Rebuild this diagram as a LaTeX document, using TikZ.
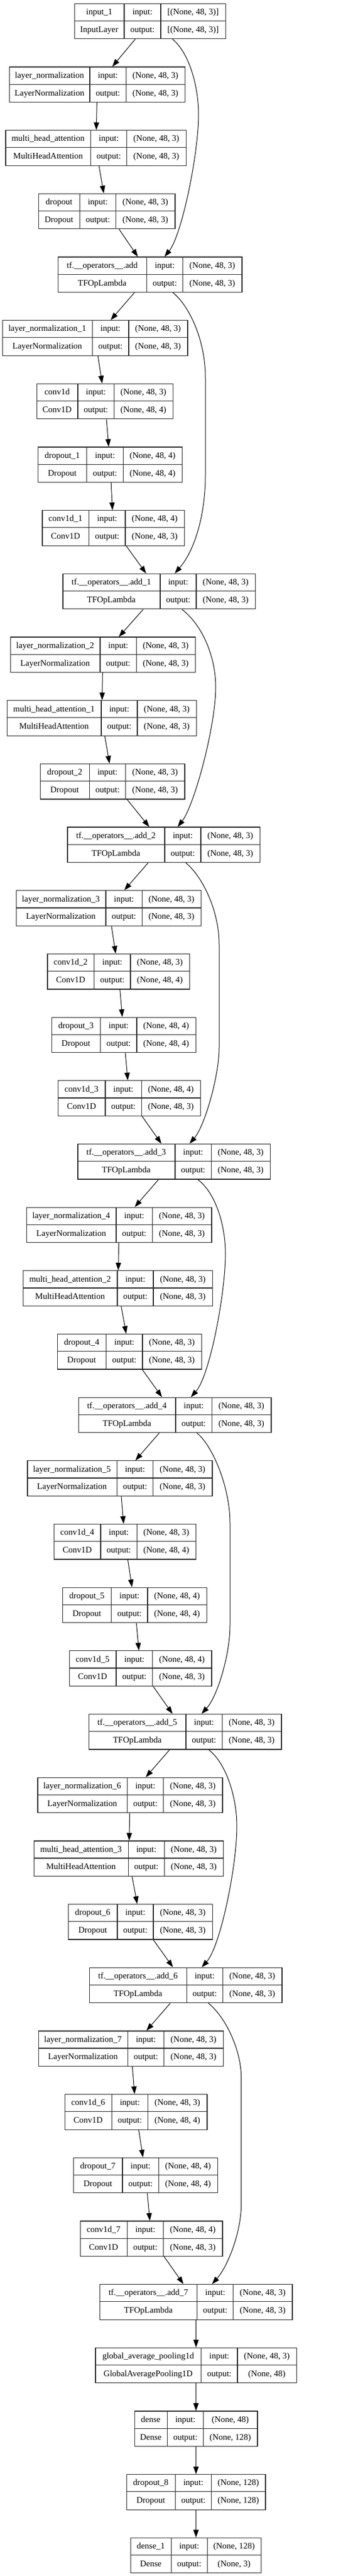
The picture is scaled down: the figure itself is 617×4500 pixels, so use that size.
\documentclass[tikz,border=0pt]{standalone}
\usepackage{fontspec}
\setmainfont{Liberation Serif}
\usetikzlibrary{arrows.meta}
\tikzset{
  recbox/.style={draw=black!85, line width=1.2pt, rectangle, inner sep=0pt, minimum height=61.5pt},
  cellline/.style={draw=black!85, line width=1.2pt},
  txt/.style={inner sep=0pt, text height=11pt, text depth=2pt, font=\fontsize{15}{18}\selectfont},
  edge/.style={line width=1pt, -{Triangle[length=13.3pt,width=9.3pt]}},
}
% #1 name, #2 row, #3 x0, #4 c1, #5 c2, #6 x3, #7 label, #8 class, #9 \io{in}{out}
\newcommand\rec[9]{%
  \pgfmathsetmacro\yt{5.7+110.675*#2}%
  \pgfmathsetmacro\ym{\yt+30.75}%
  \pgfmathsetmacro\yb{\yt+61.5}%
  \pgfmathsetmacro\ww{#6-#3}%
  \def\io##1##2{\def\inS{##1}\def\outS{##2}}#9%
  \node[recbox, minimum width=\ww pt, anchor=north west] (#1) at (#3,\yt) {};
  \draw[cellline] (#4,\yt) -- (#4,\yb) (#5,\yt) -- (#5,\yb) (#3,\ym) -- (#6,\ym);
  \pgfmathsetmacro\xa{(#3+#4)/2}%
  \pgfmathsetmacro\xb{(#4+#5)/2}%
  \pgfmathsetmacro\xc{(#5+#6)/2}%
  \pgfmathsetmacro\ya{\yt+15.375}%
  \pgfmathsetmacro\yc{\yt+46.125}%
  \node[txt] (#1-n) at (\xa,\ya) {#7};
  \node[txt] (#1-c) at (\xa,\yc) {#8};
  \node[txt] (#1-i) at (\xb,\ya) {input:};
  \node[txt] (#1-o) at (\xb,\yc) {output:};
  \node[txt] (#1-is) at (\xc,\ya) {\inS};
  \node[txt] (#1-os) at (\xc,\yc) {\outS};
}
\begin{document}
\begin{tikzpicture}[x=1pt,y=-1pt]
\fill[white] (0,0) rectangle (617,4500);
\useasboundingbox (0,0) rectangle (617,4500);

\def\ta{\io{(None, 48, 3)}{(None, 48, 3)}}
\def\tb{\io{(None, 48, 3)}{(None, 48, 4)}}
\def\tc{\io{(None, 48, 4)}{(None, 48, 4)}}
\def\td{\io{(None, 48, 4)}{(None, 48, 3)}}
\def\LN{LayerNormalization}
\def\MHA{MultiHeadAttention}
\def\TF{TFOpLambda}

\rec{in1}{0}{130}{217}{281}{394}{input\_1}{InputLayer}{\io{[(None, 48, 3)]}{[(None, 48, 3)]}}
\rec{ln0}{1}{16}{157}{220.3}{323}{layer\_normalization}{\LN}{\ta}
\rec{mha0}{2}{9.3}{158.7}{221.7}{324.7}{multi\_head\_attention}{\MHA}{\ta}
\rec{do0}{3}{67}{139.3}{202.7}{305.3}{dropout}{Dropout}{\ta}
\rec{add0}{4}{101}{256.3}{319.7}{422.3}{tf.\_\_operators\_\_.add}{\TF}{\ta}
\rec{ln1}{5}{4}{161.3}{225}{327.3}{layer\_normalization\_1}{\LN}{\ta}
\rec{cv0}{6}{63.7}{136}{199.3}{302}{conv1d}{Conv1D}{\tb}
\rec{do1}{7}{66}{151.7}{215.3}{318}{dropout\_1}{Dropout}{\tc}
\rec{cv1}{8}{73.3}{155.7}{219}{321.7}{conv1d\_1}{Conv1D}{\td}
\rec{add1}{9}{109.3}{280}{343}{445.7}{tf.\_\_operators\_\_.add\_1}{\TF}{\ta}
\rec{ln2}{10}{17.7}{175}{238.3}{341}{layer\_normalization\_2}{\LN}{\ta}
\rec{mha1}{11}{11.7}{177}{240}{342.7}{multi\_head\_attention\_1}{\MHA}{\ta}
\rec{do2}{12}{70}{156.3}{219.7}{322.3}{dropout\_2}{Dropout}{\ta}
\rec{add2}{13}{117.3}{288}{351}{454}{tf.\_\_operators\_\_.add\_2}{\TF}{\ta}
\rec{ln3}{14}{27.7}{185}{248.3}{351}{layer\_normalization\_3}{\LN}{\ta}
\rec{cv2}{15}{82.3}{164.7}{228}{330.7}{conv1d\_2}{Conv1D}{\tb}
\rec{do3}{16}{89.7}{175.7}{239}{341.7}{dropout\_3}{Dropout}{\tc}
\rec{cv3}{17}{101}{184}{247.3}{350}{conv1d\_3}{Conv1D}{\td}
\rec{add3}{18}{135.3}{306}{369.3}{472}{tf.\_\_operators\_\_.add\_3}{\TF}{\ta}
\rec{ln4}{19}{46}{203}{266.3}{369.3}{layer\_normalization\_4}{\LN}{\ta}
\rec{mha2}{20}{40}{205}{268}{371}{multi\_head\_attention\_2}{\MHA}{\ta}
\rec{do4}{21}{99.7}{185.7}{249}{351.7}{dropout\_4}{Dropout}{\ta}
\rec{add4}{22}{136.7}{307}{370.3}{473.3}{tf.\_\_operators\_\_.add\_4}{\TF}{\ta}
\rec{ln5}{23}{47.3}{204.3}{267.7}{370.3}{layer\_normalization\_5}{\LN}{\ta}
\rec{cv4}{24}{94}{176}{239.3}{342}{conv1d\_4}{Conv1D}{\tb}
\rec{do5}{25}{109}{194.7}{258}{360.7}{dropout\_5}{Dropout}{\tc}
\rec{cv5}{26}{120.7}{203}{266.7}{369.3}{conv1d\_5}{Conv1D}{\td}
\rec{add5}{27}{155}{325}{388.3}{491.3}{tf.\_\_operators\_\_.add\_5}{\TF}{\ta}
\rec{ln6}{28}{65.3}{222.3}{285.7}{388.3}{layer\_normalization\_6}{\LN}{\ta}
\rec{mha3}{29}{59}{224.3}{287.3}{390}{multi\_head\_attention\_3}{\MHA}{\ta}
\rec{do6}{30}{119}{205}{268}{371}{dropout\_6}{Dropout}{\ta}
\rec{add6}{31}{156}{326.3}{389.3}{492.3}{tf.\_\_operators\_\_.add\_6}{\TF}{\ta}
\rec{ln7}{32}{66.7}{223.3}{286.7}{389.7}{layer\_normalization\_7}{\LN}{\ta}
\rec{cv6}{33}{113}{195.3}{258.7}{361.3}{conv1d\_6}{Conv1D}{\tb}
\rec{do7}{34}{128}{214}{277.3}{380}{dropout\_7}{Dropout}{\tc}
\rec{cv7}{35}{140}{222.3}{285.7}{388.3}{conv1d\_7}{Conv1D}{\td}
\rec{add7}{36}{174}{344.7}{407.7}{510.3}{tf.\_\_operators\_\_.add\_7}{\TF}{\ta}
\rec{gap}{37}{166.3}{351.7}{415}{517.7}{global\_average\_pooling1d}{GlobalAveragePooling1D}{\io{(None, 48, 3)}{(None, 48)}}
\rec{dense}{38}{234.7}{292.3}{355.7}{449.3}{dense}{Dense}{\io{(None, 48)}{(None, 128)}}
\rec{do8}{39}{220.7}{306.3}{369.7}{463.3}{dropout\_8}{Dropout}{\io{(None, 128)}{(None, 128)}}
\rec{dense1}{40}{228}{299.3}{362.3}{456}{dense\_1}{Dense}{\io{(None, 128)}{(None, 3)}}

% consecutive connectors
\foreach \a/\b in {in1/ln0, ln0/mha0, mha0/do0, do0/add0, add0/ln1, ln1/cv0, cv0/do1, do1/cv1, cv1/add1,
  add1/ln2, ln2/mha1, mha1/do2, do2/add2, add2/ln3, ln3/cv2, cv2/do3, do3/cv3, cv3/add3,
  add3/ln4, ln4/mha2, mha2/do4, do4/add4, add4/ln5, ln5/cv4, cv4/do5, do5/cv5, cv5/add5,
  add5/ln6, ln6/mha3, mha3/do6, do6/add6, add6/ln7, ln7/cv6, cv6/do7, do7/cv7, cv7/add7,
  add7/gap, gap/dense, dense/do8, do8/dense1}
  \draw[edge] (\a) -- (\b);

% residual (skip) connectors
\draw[edge] (in1) .. controls (330.4,91.8) and (347,150) .. (347,200)
  .. controls (347,270) and (317.4,411.5) .. (add0);
\draw[edge] (add0) .. controls (328,531.4) and (359,590) .. (359,660)
  -- (359,830) .. controls (359,900) and (340.1,961.9) .. (add1);
\draw[edge] (add1) .. controls (355.9,1094.1) and (377,1150) .. (377,1200)
  .. controls (377,1270) and (339.2,1407.5) .. (add2);
\draw[edge] (add2) .. controls (353.4,1530.6) and (383,1590) .. (383,1650)
  -- (383,1830) .. controls (383,1880) and (357.75,1967.1) .. (add3);
\draw[edge] (add3) .. controls (376.85,2083.95) and (394,2140) .. (394,2190)
  .. controls (394,2260) and (366.6,2403.65) .. (add4);
\draw[edge] (add4) .. controls (372.9,2526.65) and (402,2600) .. (402,2660)
  -- (402,2840) .. controls (402,2890) and (380.25,2963.15) .. (add5);
\draw[edge] (add5) .. controls (395.45,3080) and (414,3140) .. (414,3190)
  .. controls (414,3260) and (385.4,3399.7) .. (add6);
\draw[edge] (add6) .. controls (393.55,3522.7) and (421.7,3580) .. (421.7,3630)
  -- (421.7,3850) .. controls (421.7,3900) and (397.85,3959.3) .. (add7);
\end{tikzpicture}
\end{document}
